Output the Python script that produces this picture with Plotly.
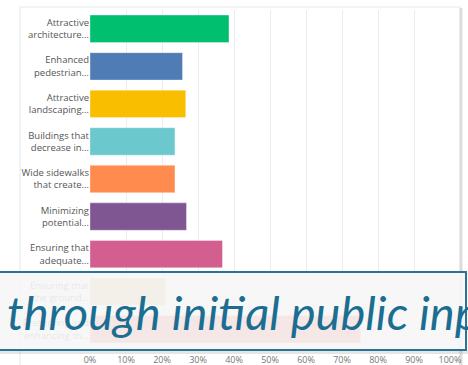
import plotly.graph_objects as go

categories = [
    "Attractive<br>architecture…",
    "Enhanced<br>pedestrian…",
    "Attractive<br>landscaping…",
    "Buildings that<br>decrease in…",
    "Wide sidewalks<br>that create…",
    "Minimizing<br>potential…",
    "Ensuring that<br>adequate…",
    "Ensuring that<br>the ground…",
    "Preserving and<br>enhancing th…",
]
values = [38.6, 25.7, 26.6, 23.6, 23.6, 26.8, 36.8, 21.1, 75.2]
colors = ["#00BF6F", "#507CB6", "#F9BE00", "#6BC8CD", "#FF8B4F",
          "#7F5691", "#D25F90", "#C9B86B", "#F05B61"]
x_ticks = [0, 10, 20, 30, 40, 50, 60, 70, 80, 90, 100]
x_ticklabels = [f"{t}%" for t in x_ticks]
banner_text = "through initial public input"

W, H = 468, 365
ML, MR, MT, MB = 90, 18, 10, 17
PW = W - ML - MR
PH = H - MT - MB


def px(x):
    return (x - ML) / PW


def py(y):
    return (H - MB - y) / PH


fig = go.Figure()
fig.add_trace(go.Bar(
    y=categories, x=values, orientation="h",
    marker=dict(color=colors, line=dict(color="rgba(255,255,255,0.35)", width=1)),
    hoverinfo="skip",
))

shapes = [
    # panel frame
    dict(type="rect", xref="paper", yref="paper", x0=px(20), x1=px(460), y0=py(380), y1=py(7),
         line=dict(color="#e6e6e6", width=1), fillcolor="rgba(0,0,0,0)", layer="below"),
    dict(type="line", xref="paper", yref="paper", x0=px(461), x1=px(461), y0=py(380), y1=py(8),
         line=dict(color="#dddddd", width=3), layer="below"),
    # banner shadow
    dict(type="rect", xref="paper", yref="paper", x0=px(-5), x1=px(470), y0=py(354), y1=py(350),
         line=dict(width=0), fillcolor="rgba(150,150,150,0.25)", layer="above"),
    # banner
    dict(type="rect", xref="paper", yref="paper", x0=px(-5), x1=px(466), y0=py(350), y1=py(272),
         line=dict(color="#2a7394", width=2), fillcolor="rgba(246,246,246,0.9)", layer="above"),
]

fig.update_layout(
    width=W, height=H,
    margin=dict(l=ML, r=MR, t=MT, b=MB, autoexpand=False),
    paper_bgcolor="white", plot_bgcolor="white",
    bargap=0.27,
    showlegend=False,
    shapes=shapes,
    xaxis=dict(range=[0, 100], tickvals=x_ticks, ticktext=x_ticklabels,
               showgrid=True, gridcolor="#ececec", gridwidth=1, zeroline=False,
               showline=False, ticks="", fixedrange=True, automargin=False,
               ticklabelstandoff=5,
               tickfont=dict(family="Open Sans", size=9, color="#777777")),
    yaxis=dict(autorange="reversed", showgrid=False, zeroline=False, ticks="",
               ticklabelstandoff=0, automargin=False,
               tickfont=dict(family="Open Sans", size=9.5, color="#555555")),
    annotations=[dict(
        text=banner_text, xref="paper", yref="paper", x=px(5), y=py(312),
        xanchor="left", yanchor="middle", showarrow=False,
        font=dict(family="Lato", size=47, color="#1b6e92", style="italic"),
    )],
)

fig.write_html("out.html")
